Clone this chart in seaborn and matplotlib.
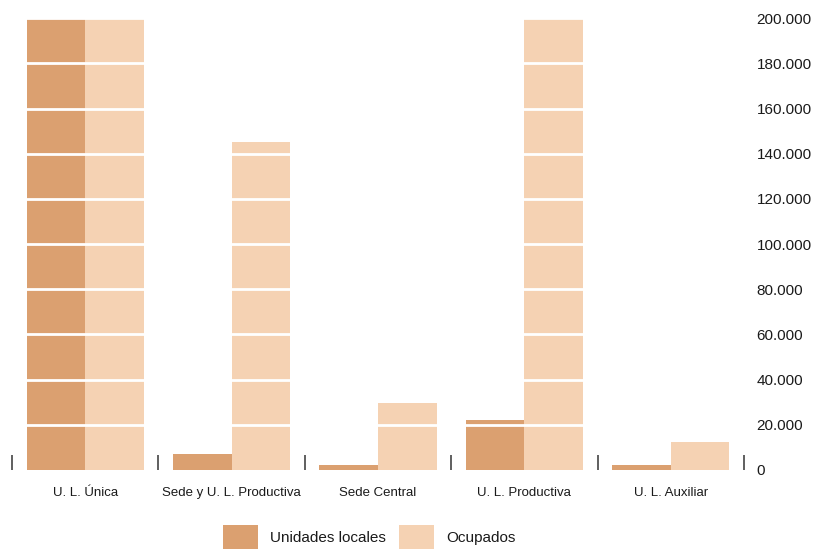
import numpy as np
import pandas as pd
import matplotlib
matplotlib.use("Agg")
import matplotlib.pyplot as plt
import seaborn as sns

# Data (U. L. Unica and Ocupados of U. L. Productiva run past the top)
categorias = ["U. L. Única", "Sede y U. L. Productiva", "Sede Central", "U. L. Productiva", "U. L. Auxiliar"]
unidades_locales = [200000, 7000, 2000, 22000, 2000]
ocupados = [200000, 145000, 29500, 200000, 12500]
series = ["Unidades locales", "Ocupados"]
colores = ["#DBA070", "#F5D2B3"]
yticks = list(range(0, 200001, 20000))
ytick_labels = [f"{v:,}".replace(",", ".") for v in yticks]

df = pd.DataFrame({
    "categoria": categorias * 2,
    "serie": [series[0]] * len(categorias) + [series[1]] * len(categorias),
    "valor": unidades_locales + ocupados,
})

sns.set_style("white")
plt.rcParams["font.family"] = ["Liberation Sans", "DejaVu Sans"]

fig = plt.figure(figsize=(8.15, 5.5), dpi=100)
ax = fig.add_axes([0.0093, 0.1455, 0.909, 0.8215])

sns.barplot(data=df, x="categoria", y="valor", hue="serie", order=categorias,
            hue_order=series, palette=colores, saturation=1, width=0.8,
            linewidth=0, ax=ax)

ax.set_ylim(0, 200000)
ax.set_xlim(-0.53, 4.53)
ax.set_xlabel("")
ax.set_ylabel("")

# white lines across the bars (not at 0, so the separators stay whole)
for y in yticks[1:]:
    ax.axhline(y, color="white", linewidth=2, zorder=3)

ax.set_yticks(yticks)
ax.set_yticklabels(ytick_labels)
ax.yaxis.tick_right()
ax.tick_params(axis="y", length=0, pad=6, labelsize=11, labelcolor="#1a1a1a")

# separators between categories, labels in the middle
n = len(categorias)
ax.set_xticks(np.arange(n + 1) - 0.5)
ax.set_xticklabels([])
ax.set_xticks(np.arange(n), minor=True)
ax.set_xticklabels(categorias, minor=True)
ax.tick_params(axis="x", which="major", bottom=True, direction="in", length=11,
               width=1.2, color="#444444")
ax.tick_params(axis="x", which="minor", bottom=True, length=0, pad=12,
               labelsize=9.5, labelcolor="#1a1a1a")

for s in ax.spines.values():
    s.set_visible(False)

sns.move_legend(ax, "center", bbox_to_anchor=(0.453, 0.024), bbox_transform=fig.transFigure,
                ncol=2, frameon=False, title=None, fontsize=11, handlelength=2.3,
                handleheight=2.1, handletextpad=0.8, columnspacing=0.8)
for t in ax.get_legend().get_texts():
    t.set_color("#1a1a1a")

fig.savefig("out.png", dpi=100)
